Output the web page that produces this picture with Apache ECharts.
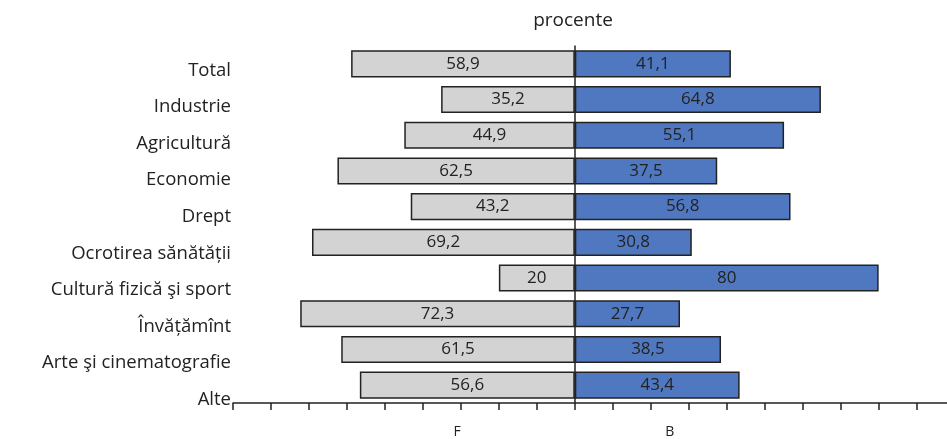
<!DOCTYPE html>
<html>
<head>
<meta charset="utf-8">
<script src="https://cdn.jsdelivr.net/npm/echarts@6/dist/echarts.min.js"></script>
<style>html,body{margin:0;padding:0;background:#fff}#c{width:947px;height:439px}</style>
</head>
<body>
<div id="c"></div>
<script>
const categories = ['Total','Industrie','Agricultură','Economie','Drept','Ocrotirea sănătății','Cultură fizică şi sport','Învățămînt','Arte şi cinematografie','Alte'];
const valuesF = [58.9, 35.2, 44.9, 62.5, 43.2, 69.2, 20, 72.3, 61.5, 56.6];
const valuesB = [41.1, 64.8, 55.1, 37.5, 56.8, 30.8, 80, 27.7, 38.5, 43.4];
const seriesNames = ['F', 'B'];
const tickValues = [-90,-80,-70,-60,-50,-40,-30,-20,-10,0,10,20,30,40,50,60,70,80,90];
const groupLabelPos = [-31, 25];
const title = 'procente';

const font = '"Open Sans", "Noto Sans", sans-serif';
const fmt = v => String(Math.abs(v)).replace('.', ',');

const chart = echarts.init(document.getElementById('c'));
chart.setOption({
  animation: false,
  title: { text: title, left: 568, top: 6, textAlign: 'center',
    textStyle: { fontFamily: font, fontSize: 19, fontWeight: 'normal', color: '#222' } },
  grid: [
    { left: 233, right: 0, top: 46, bottom: 35, containLabel: false },
    { left: 233, right: 0, top: 46, bottom: 27, containLabel: false }
  ],
  xAxis: [{
    type: 'value', gridIndex: 0, min: -90, max: 98, interval: 10,
    splitLine: { show: false },
    axisLine: { show: true, lineStyle: { color: '#222', width: 1.5 } },
    axisTick: { show: true, length: 7, inside: false, customValues: tickValues, lineStyle: { color: '#222', width: 1.5 } },
    axisLabel: { show: true, customValues: groupLabelPos, margin: 22,
      formatter: v => (v < 0 ? seriesNames[0] : seriesNames[1]),
      fontFamily: font, fontSize: 14, color: '#222' }
  }, {
    type: 'value', gridIndex: 1, min: -90, max: 98, show: false
  }],
  yAxis: [{
    type: 'category', gridIndex: 0, data: categories, inverse: true,
    axisLine: { show: true, onZero: true, lineStyle: { color: '#222', width: 1.5 } },
    axisTick: { show: false },
    axisLabel: { show: false }
  }, {
    type: 'category', gridIndex: 1, data: categories, inverse: true, position: 'left',
    axisLine: { show: false, onZero: false },
    axisTick: { show: false },
    axisLabel: { show: true, margin: 2, verticalAlign: 'top', lineHeight: 12,
      fontFamily: font, fontSize: 18.5, color: '#222' }
  }],
  series: [{
    name: seriesNames[0], type: 'bar', xAxisIndex: 0, yAxisIndex: 0,
    barCategoryGap: '24%', barGap: '-100%',
    data: valuesF.map(v => -v),
    itemStyle: { color: '#d3d3d3', borderColor: '#222', borderWidth: 1.5 },
    label: { show: true, position: 'inside', formatter: p => fmt(p.value),
      fontFamily: font, fontSize: 17, color: '#222' }
  }, {
    name: seriesNames[1], type: 'bar', xAxisIndex: 0, yAxisIndex: 0,
    barCategoryGap: '24%', barGap: '-100%',
    data: valuesB,
    itemStyle: { color: '#5078c0', borderColor: '#222', borderWidth: 1.5 },
    label: { show: true, position: 'inside', formatter: p => fmt(p.value),
      fontFamily: font, fontSize: 17, color: '#222' }
  }]
});
</script>
</body>
</html>
